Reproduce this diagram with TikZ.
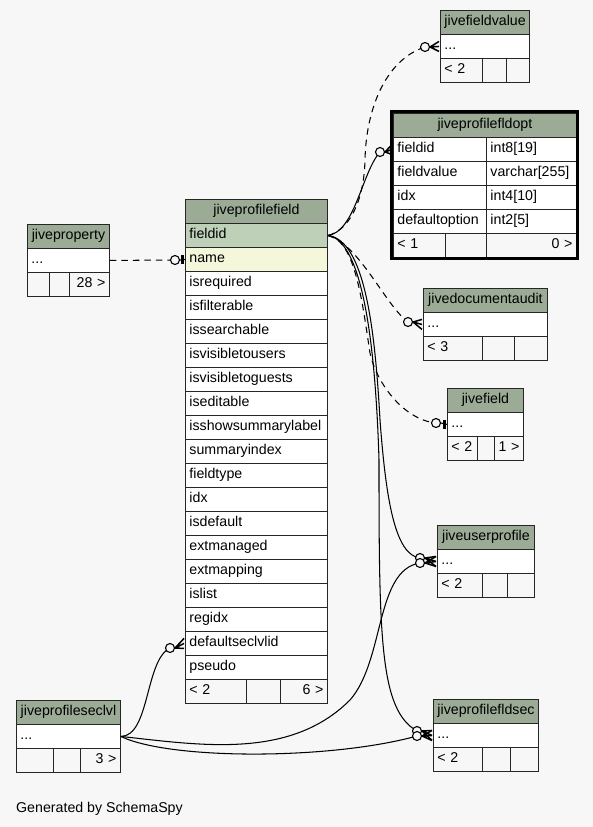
\documentclass[tikz,border=0pt]{standalone}
\usepackage{fontspec}
\setmainfont{Liberation Sans}
\definecolor{bgcol}{HTML}{F7F7F7}
\definecolor{hdrcol}{HTML}{9BAB96}
\definecolor{pkcol}{HTML}{BED1B8}
\definecolor{idxcol}{HTML}{F4F7DA}
\newcommand\fsz{\fontsize{14.2}{16}\selectfont}
\tikzset{
  cellbase/.style={draw=black!85, line width=0.9pt, minimum height=24pt, inner ysep=0pt, inner xsep=4pt,
    anchor=north west, font=\fsz, text height=10pt, text depth=3pt},
  hcell/.style={cellbase, fill=hdrcol, align=center},
  lcell/.style={cellbase, align=left},
  rcell/.style={cellbase, align=right},
  edge/.style={line width=1.05pt, black},
  dedge/.style={edge, dash pattern=on 6.5pt off 5pt},
  crowline/.style={line width=1.5pt, black},
  ring/.style={circle, draw=black, line width=1.1pt, fill=bgcol, minimum size=9pt, inner sep=0pt},
}
% small table: id, title, x1, x2, ytop, d1, d2, left footer, right footer
\newcommand\stab[9]{%
  \pgfmathsetmacro\stWa{#4-#3}\pgfmathsetmacro\stTa{#4-#3-8}%
  \pgfmathsetmacro\stWb{#6-#3}\pgfmathsetmacro\stTb{#6-#3-8}%
  \pgfmathsetmacro\stWc{#7-#6}\pgfmathsetmacro\stTc{#7-#6-8}%
  \pgfmathsetmacro\stWd{#4-#7}\pgfmathsetmacro\stTd{#4-#7-8}%
  \node[hcell, minimum width=\stWa, text width=\stTa pt] (#1) at (#3,#5) {#2};
  \node[lcell, fill=white, minimum width=\stWa, text width=\stTa pt] (#1-row) at (#3,#5+24) {...};
  \node[lcell, minimum width=\stWb, text width=\stTb pt] (#1-fa) at (#3,#5+48) {#8};
  \node[lcell, minimum width=\stWc, text width=\stTc pt] (#1-fb) at (#6,#5+48) {};
  \node[rcell, minimum width=\stWd, text width=\stTd pt] (#1-fc) at (#7,#5+48) {#9};
}
\newcommand\crowat[2]{% ring, target node (west side)
  \draw[crowline] (#1.east) -- ([xshift=-1pt,yshift=5pt]#2.west) (#1.east) -- ([xshift=-1pt]#2.west) (#1.east) -- ([xshift=-1pt,yshift=-5pt]#2.west);}
\newcommand\teeat[2]{%
  \draw[edge] (#1.east) -- (#2.west);
  \draw[line width=2.6pt] ([xshift=-2.5pt,yshift=4.5pt]#2.west) -- ([xshift=-2.5pt,yshift=-4.5pt]#2.west);}
\begin{document}
\begin{tikzpicture}[x=1pt,y=-1pt]
\fill[bgcol] (0,0) rectangle (593,827);
\useasboundingbox (0,0) rectangle (593,827);

% ---------- main table jiveprofilefield ----------
\node[hcell, minimum width=142, text width=134pt] (jpf) at (185,199) {jiveprofilefield};
\foreach [count=\i] \nm/\fl in {fieldid/pkcol, name/idxcol, isrequired/white, isfilterable/white,
  issearchable/white, isvisibletousers/white, isvisibletoguests/white, iseditable/white,
  isshowsummarylabel/white, summaryindex/white, fieldtype/white, idx/white, isdefault/white,
  extmanaged/white, extmapping/white, islist/white, regidx/white, defaultseclvlid/white, pseudo/white}{
  \node[lcell, fill=\fl, minimum width=142, text width=134pt] (jpf-\nm) at (185,199+24*\i) {\nm};
}
\node[lcell, minimum width=61, text width=53pt] (jpf-fa) at (185,679) {< 2};
\node[lcell, minimum width=34, text width=26pt] (jpf-fb) at (246,679) {};
\node[rcell, minimum width=47, text width=39pt] (jpf-fc) at (280,679) {6 >};

% ---------- jiveprofilefldopt ----------
\node[hcell, minimum width=183, text width=175pt] (jpo) at (393,113) {jiveprofilefldopt};
\foreach [count=\i] \nm/\ty in {fieldid/int8[19], fieldvalue/varchar[255], idx/int4[10], defaultoption/int2[5]}{
  \node[lcell, fill=white, minimum width=93, text width=85pt] (jpo-\nm) at (393,113+24*\i) {\nm};
  \node[lcell, fill=white, minimum width=90, text width=82pt] (jpo-\nm-t) at (486,113+24*\i) {\ty};
}
\node[lcell, minimum width=52, text width=44pt] (jpo-fa) at (393,233) {< 1};
\node[lcell, minimum width=41, text width=33pt] (jpo-fb) at (445,233) {};
\node[rcell, minimum width=90, text width=82pt] (jpo-fc) at (486,233) {0 >};
\draw[line width=3pt] (391.5,111.5) rectangle (577.5,258.5);

% ---------- small tables ----------
\stab{jfv}{jivefieldvalue}{440}{529}{10}{482}{506}{< 2}{}
\stab{jpr}{jiveproperty}{27}{109}{224}{49}{69}{}{28 >}
\stab{jda}{jivedocumentaudit}{423}{547}{288}{482}{514}{< 3}{}
\stab{jfd}{jivefield}{447}{523}{388}{477}{494}{< 2}{1 >}
\stab{jup}{jiveuserprofile}{437}{534}{525}{482}{507}{< 2}{}
\stab{jsl}{jiveprofileseclvl}{16}{120}{700}{53}{80}{}{3 >}
\stab{jfs}{jiveprofilefldsec}{433}{538}{699}{482}{510}{< 2}{}

% ---------- ring positions ----------
\coordinate (r1) at (425,47);
\coordinate (r2) at (380,152);
\coordinate (r3) at (408,322);
\coordinate (r4) at (436,423);
\coordinate (r5) at (420,558);
\coordinate (r6) at (417,731);
\coordinate (r7) at (170,648);
\coordinate (r8) at (420,563);
\coordinate (r9) at (417,736);
\coordinate (r10) at (175,260);

% ---------- connectors ----------
\draw[dedge] (jpf-fieldid.east) .. controls (350,230) and (364,200) .. (365,160)
   .. controls (366,110) and (385,60) .. (r1);
\draw[edge] (jpf-fieldid.east) .. controls (355,232) and (362,172) .. (r2);
\draw[dedge] (jpf-fieldid.east) .. controls (360,245) and (385,305) .. (r3);
\draw[dedge] (jpf-fieldid.east) .. controls (355,240) and (362,300) .. (370,353)
   .. controls (377,385) and (405,420) .. (r4);
\draw[edge] (jpf-fieldid.east) .. controls (365,240) and (375,330) .. (380,420)
   .. controls (386,500) and (395,555) .. (r5);
\draw[edge] (jpf-fieldid.east) .. controls (360,240) and (375,330) .. (379,460)
   .. controls (379,640) and (380,710) .. (r6);
\draw[edge] (jsl-row.east) .. controls (150,736) and (145,660) .. (r7);
\draw[edge] (jsl-row.east) .. controls (200,745) and (290,760) .. (350,700)
   .. controls (385,660) and (375,570) .. (r8);
\draw[edge] (jsl-row.east) .. controls (170,760) and (330,760) .. (r9);
\draw[dedge] (jpr-row.east) -- (r10);

% ---------- rings on top ----------
\foreach \r in {r1,r2,r3,r4,r5,r6,r7,r8,r9,r10}{
  \node[ring] (\r-o) at (\r) {};
}

% ---------- ends ----------
\crowat{r1-o}{jfv-row}
\crowat{r2-o}{jpo-fieldid}
\crowat{r3-o}{jda-row}
\teeat{r4-o}{jfd-row}
\crowat{r5-o}{jup-row}
\crowat{r8-o}{jup-row}
\crowat{r6-o}{jfs-row}
\crowat{r9-o}{jfs-row}
\crowat{r7-o}{jpf-defaultseclvlid}
\teeat{r10-o}{jpf-name}

\node[font=\fsz, anchor=base west, inner sep=0pt] (gen) at (16,812) {Generated by SchemaSpy};
\end{tikzpicture}
\end{document}
